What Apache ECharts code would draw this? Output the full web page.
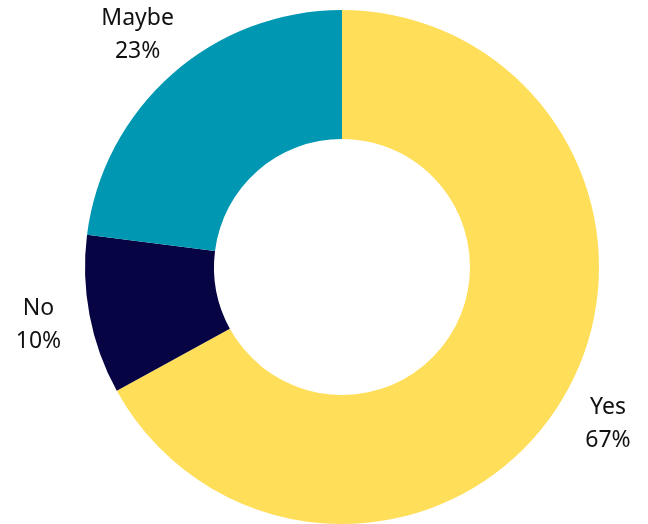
<!DOCTYPE html>
<html>
<head>
<meta charset="utf-8">
<script src="https://cdn.jsdelivr.net/npm/echarts@6/dist/echarts.min.js"></script>
<style>
  html, body { margin: 0; padding: 0; background: #ffffff; }
  #chart { width: 648px; height: 524px; }
</style>
</head>
<body>
<div id="chart"></div>
<script>
const categories = ['Yes', 'No', 'Maybe']
const shares = [67, 10, 23]
const colors = ['#FFDE59', '#060442', '#0097B2']

const chart = echarts.init(document.getElementById('chart'))

const slices = categories.map((name, i) => ({
  name,
  value: shares[i],
  itemStyle: { color: colors[i] },
}))

chart.setOption({
  animation: false,
  series: [
    {
      type: 'pie',
      center: [342, 267],
      radius: [128, 257],
      startAngle: 90,
      clockwise: true,
      silent: true,
      label: { show: false },
      labelLine: { show: false },
      data: slices,
    },
    {
      // transparent ring used only to place labels outside the donut
      type: 'pie',
      center: [342, 267],
      radius: [257, 355],
      startAngle: 90,
      clockwise: true,
      silent: true,
      itemStyle: { color: 'rgba(0,0,0,0)' },
      label: {
        show: true,
        position: 'inside',
        formatter: '{b}\n{c}%',
        color: '#111111',
        fontFamily: 'Noto Sans, sans-serif',
        fontSize: 23,
        lineHeight: 33,
        align: 'center',
      },
      labelLine: { show: false },
      data: categories.map((name, i) => ({ name, value: shares[i] })),
    },
  ],
})
</script>
</body>
</html>
